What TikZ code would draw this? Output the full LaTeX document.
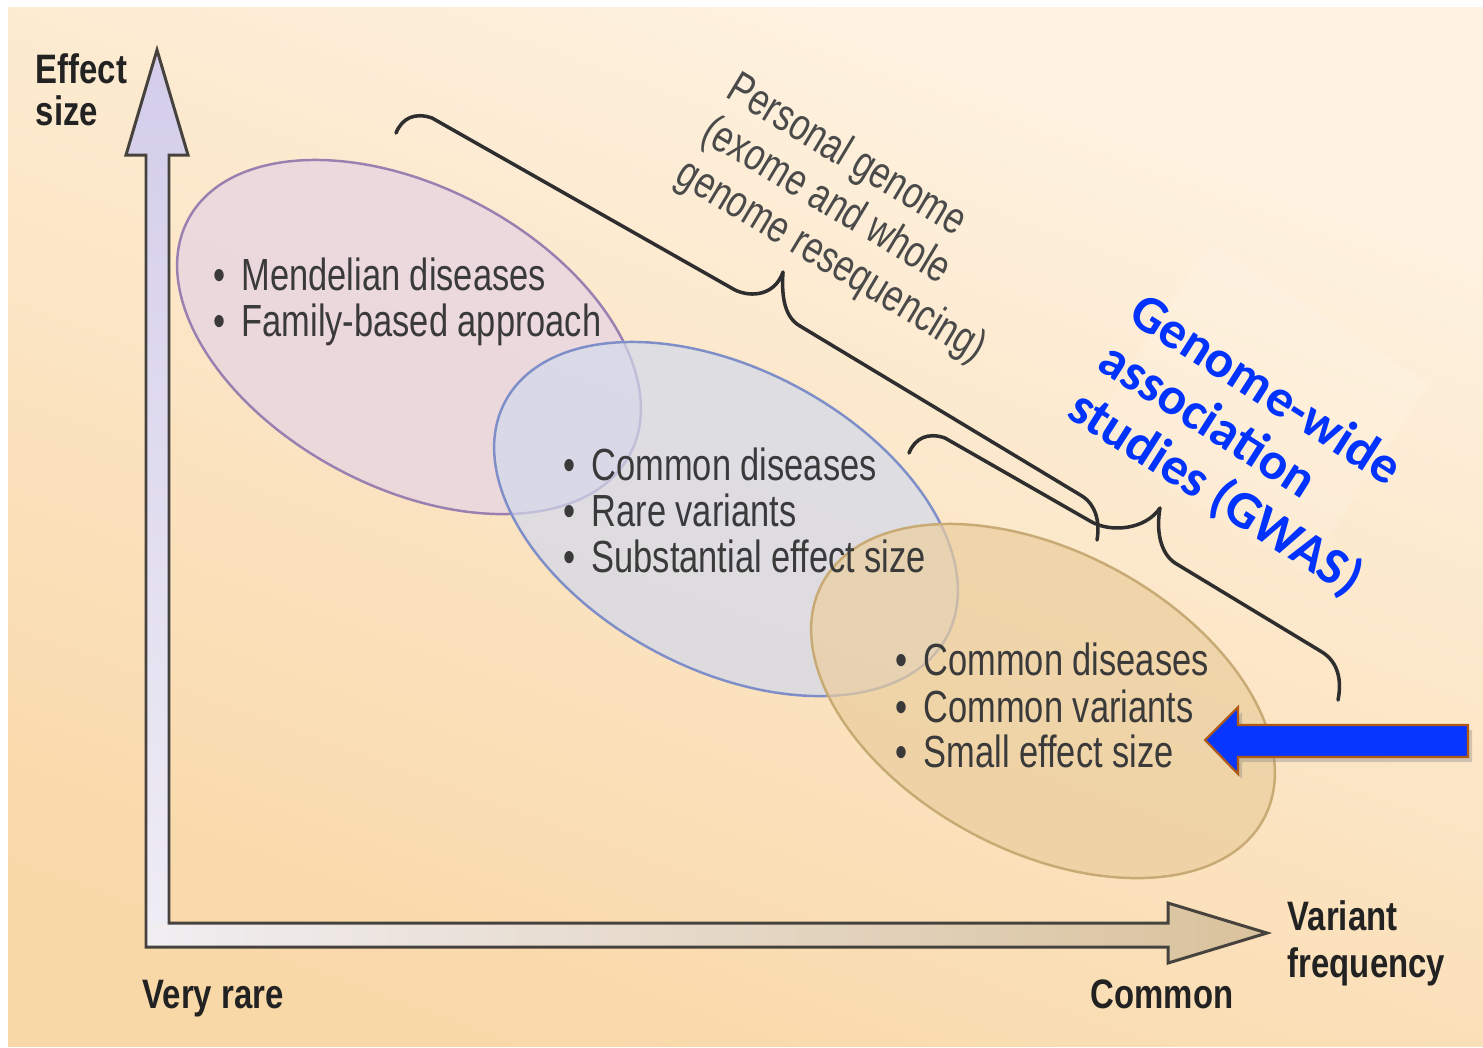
\documentclass[tikz,border=0pt]{standalone}
\usepackage{fontspec}
\setmainfont{Liberation Sans}
\newfontfamily\condf[FakeStretch=0.765]{Liberation Sans}
\newfontfamily\condbf[FakeStretch=0.8]{Liberation Sans}
\newfontfamily\calif{Carlito}
\usetikzlibrary{shapes.geometric,shadows}
\definecolor{bgtop}{HTML}{FEF3E3}
\definecolor{bgbot}{HTML}{F9D8A8}
\definecolor{vtop}{HTML}{D3CDEA}
\definecolor{vbot}{HTML}{EFEDF5}
\definecolor{hleft}{HTML}{F1EEF2}
\definecolor{hright}{HTML}{D9C29C}
\definecolor{axisline}{HTML}{46423D}
\definecolor{purpfill}{HTML}{E5D3E5}
\definecolor{purpedge}{HTML}{9A80B0}
\definecolor{bluefill}{HTML}{D2D9EC}
\definecolor{blueedge}{HTML}{7E8EC8}
\definecolor{tanfill}{HTML}{EBCE9E}
\definecolor{tanedge}{HTML}{C8AA74}
\definecolor{txtgray}{HTML}{3A3A3A}
\definecolor{pgray}{HTML}{4A4A4A}
\definecolor{axisdark}{HTML}{222222}
\definecolor{bracegray}{HTML}{2E2E2E}
\definecolor{gwasblue}{HTML}{0033FF}
\definecolor{arrowblue}{HTML}{0636FF}
\definecolor{arrowedge}{HTML}{B05A16}
\tikzset{
  bodytext/.style={font=\condf\fontsize{12.8}{14}\selectfont, text=txtgray, anchor=base west, inner sep=0pt},
  axislabel/.style={font=\condbf\bfseries\fontsize{11.7}{13}\selectfont, text=axisdark, anchor=base west, inner sep=0pt},
  bracepath/.style={draw=bracegray, line width=1pt, line cap=round, line join=round},
  bubble/.style={ellipse, minimum width=5cm, minimum height=3cm, inner sep=0pt, rotate=-28, line width=0.7pt, fill opacity=0.7},
}
\begin{document}
\begin{tikzpicture}[x=0.01cm, y=-0.01cm]
\useasboundingbox (0,0) rectangle (1483,1047);
\fill[white] (0,0) rectangle (1483,1047);
\shade[top color=bgtop, bottom color=bgbot, shading angle=-20] (8,7) rectangle (1483,1046);

% faint light patch behind GWAS text
\fill[white, opacity=0.12, rotate around={-33:(1258,408)}] (1128,295) rectangle (1388,521);

% ellipses
\node[bubble, draw=purpedge, fill=purpfill] (mend) at (409,337) {};
\node[bubble, draw=blueedge, fill=bluefill] (rare) at (726,519) {};
\node[bubble, draw=tanedge, fill=tanfill] (comm) at (1043,701) {};

% axes (block arrows)
\shade[top color=vtop, bottom color=vbot] (146,947) -- (146,155) -- (126,155) -- (157,50) -- (188,155) -- (169,155) -- (169,947) -- cycle;
\shade[left color=hleft, right color=hright] (146,923) -- (1168,923) -- (1168,903) -- (1267,933) -- (1168,963) -- (1168,947) -- (146,947) -- cycle;
\draw[axisline, line width=0.85pt, line join=miter] (146,947) -- (146,155) -- (126,155) -- (157,50) -- (188,155) -- (169,155) -- (169,923) -- (1168,923) -- (1168,903) -- (1267,933) -- (1168,963) -- (1168,947) -- cycle;

% ellipse texts
\node[bodytext] (m1) at (213,290) {\textbullet\hspace{4.5pt}Mendelian diseases};
\node[bodytext] (m2) at (213,336) {\textbullet\hspace{4.5pt}Family-based approach};
\node[bodytext] (r1) at (563,480) {\textbullet\hspace{4.5pt}Common diseases};
\node[bodytext] (r2) at (563,526) {\textbullet\hspace{4.5pt}Rare variants};
\node[bodytext] (r3) at (563,572) {\textbullet\hspace{4.5pt}Substantial effect size};
\node[bodytext] (c1) at (895,675) {\textbullet\hspace{4.5pt}Common diseases};
\node[bodytext] (c2) at (895,722) {\textbullet\hspace{4.5pt}Common variants};
\node[bodytext] (c3) at (895,767) {\textbullet\hspace{4.5pt}Small effect size};

% axis labels
\node[axislabel] (eff1) at (35,83) {Effect};
\node[axislabel] (eff2) at (35,125) {size};
\node[axislabel] (vrare) at (142,1008) {Very rare};
\node[axislabel] (common) at (1090,1008) {Common};
\node[axislabel] (var1) at (1287,930) {Variant};
\node[axislabel] (var2) at (1287,977) {frequency};

% braces
\draw[bracepath] (396,133) .. controls (402,118) and (415,112) .. (432,118) -- (735,290)
  .. controls (752,298) and (775,295) .. (783,272)
  .. controls (781,300) and (786,318) .. (800,326) -- (1082,496)
  .. controls (1096,505) and (1100,522) .. (1097,540);
\draw[bracepath] (909,453) .. controls (915,438) and (928,432) .. (945,438) -- (1090,521)
  .. controls (1110,533) and (1145,530) .. (1160,508)
  .. controls (1156,530) and (1160,553) .. (1175,563) -- (1322,652)
  .. controls (1338,662) and (1342,680) .. (1338,700);

% rotated labels
\node[rotate=-31, anchor=north west, align=left, font=\condf\fontsize{12.8}{14}\selectfont, text=pgray, inner sep=0pt] (pers) at (741,68) {Personal genome\\(exome and whole\\genome resequencing)};
\node[rotate=-32.5, anchor=north west, align=left, font=\calif\bfseries\fontsize{15}{16.2}\selectfont, text=gwasblue, inner sep=0pt] (gwas) at (1146,288) {Genome-wide\\association\\studies (GWAS)};

% blue pointer arrow
\filldraw[fill=arrowblue, draw=arrowedge, line width=0.6pt, line join=miter, drop shadow={opacity=0.35, shadow xshift=0.04cm, shadow yshift=-0.05cm}] (1205,740) -- (1238,707) -- (1238,725) -- (1468,725) -- (1468,757) -- (1238,757) -- (1238,774) -- cycle;
\end{tikzpicture}
\end{document}
